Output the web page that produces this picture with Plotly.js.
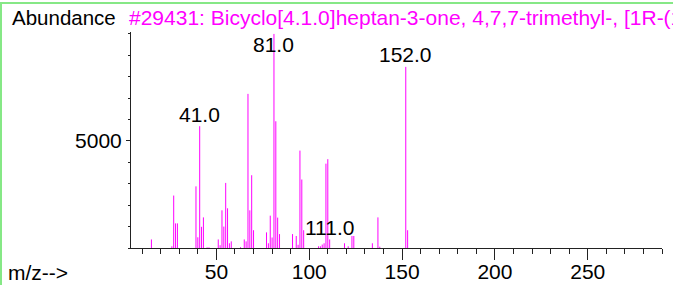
<!DOCTYPE html>
<html>
<head>
<meta charset="utf-8">
<script src="https://cdn.plot.ly/plotly-3.0.1.min.js"></script>
<style>
html,body{margin:0;padding:0;background:#fff;}
#chart{width:673px;height:285px;}
</style>
</head>
<body>
<div id="chart"></div>
<script>
// m/z values and abundances
const mz = [15, 26, 27, 28, 29, 39, 40, 41, 42, 43, 45, 46, 51, 52, 53, 54, 55, 56, 57, 58,
            63, 65, 66, 67, 68, 69, 70, 77, 78, 79, 80, 81, 82, 83, 84, 91, 93, 94, 95, 96, 97,
            105, 106, 107, 108, 109, 110, 111, 119, 121, 123, 124, 134, 137, 138, 152, 153];
const abundance = [400, 80, 2450, 1150, 1150, 2880, 500, 5690, 990, 1430, 30, 30, 400, 130, 1760, 1000, 3040, 1855, 220, 310,
            40, 400, 310, 7200, 1760, 3400, 830, 730, 220, 1510, 490, 10000, 5920, 1420, 650, 650, 560, 150, 4550, 3200, 830,
            80, 80, 160, 220, 3940, 4150, 400, 220, 80, 560, 560, 220, 1430, 60, 8460, 830];
const labelledPeaks = [41, 81, 111, 152];
const xTickVals = [50, 100, 150, 200, 250];
const yTickVals = [5000];
const titleText = "#29431: Bicyclo[4.1.0]heptan-3-one, 4,7,7-trimethyl-, [1R-(1\u03b1,4\u03b2,6\u03b1)]-";
const yAxisLabel = "Abundance";
const xAxisLabel = "m/z-->";

// build stick segments
const xs = [], ys = [];
mz.forEach((m, i) => { xs.push(m, m, null); ys.push(0, abundance[i], null); });

const W = 673, H = 285;
const M = {l: 131, r: 11, t: 32, b: 37};
const pw = W - M.l - M.r, ph = H - M.t - M.b;
const px = v => (v - M.l) / pw;          // pixel x -> paper
const py = v => (H - M.b - v) / ph;      // pixel y -> paper

const FONT = "Liberation Sans, Arial, sans-serif";
const FS = 21;
const annotations = labelledPeaks.map(m => {
  const a = abundance[mz.indexOf(m)];
  return {
    x: m, y: Math.min(a, 8960), xref: 'x', yref: 'y',
    text: m.toFixed(1), showarrow: false, xanchor: 'center', yanchor: 'middle',
    yshift: 12, font: {family: FONT, size: FS, color: '#000'}
  };
});
annotations.push({
  x: px(10), y: py(17), xref: 'paper', yref: 'paper', text: yAxisLabel, showarrow: false,
  xanchor: 'left', yanchor: 'middle', font: {family: FONT, size: FS - 0.5, color: '#000'}
});
annotations.push({
  x: px(6), y: py(272), xref: 'paper', yref: 'paper', text: xAxisLabel, showarrow: false,
  xanchor: 'left', yanchor: 'middle', font: {family: FONT, size: FS, color: '#000'}
});
annotations.push({
  x: px(127), y: py(18), xref: 'paper', yref: 'paper', text: titleText, showarrow: false,
  xanchor: 'left', yanchor: 'middle', font: {family: FONT, size: FS, color: '#ff00ff'}
});

const shapes = [
  {type: 'line', xref: 'paper', yref: 'paper', x0: px(0), x1: px(673), y0: py(3), y1: py(3),
   line: {color: '#86e886', width: 2}},
  {type: 'line', xref: 'paper', yref: 'paper', x0: px(1), x1: px(1), y0: py(3), y1: py(285),
   line: {color: '#86e886', width: 2}}
];

const trace = {
  x: xs, y: ys, type: 'scatter', mode: 'lines', connectgaps: false,
  line: {color: '#ff00ff', width: 1}, hoverinfo: 'skip', cliponaxis: false
};

const layout = {
  width: W, height: H, margin: M, showlegend: false,
  paper_bgcolor: '#fff', plot_bgcolor: '#fff',
  font: {family: FONT, size: FS, color: '#000'},
  xaxis: {
    range: [4, 290], showgrid: false, zeroline: false, showline: true,
    linecolor: '#222', linewidth: 1, ticks: 'outside', ticklen: 11, tickwidth: 1, tickcolor: '#222',
    tickvals: xTickVals, ticktext: xTickVals.map(String), ticklabelstandoff: -6,
    tickfont: {family: FONT, size: FS, color: '#000'},
    minor: {tick0: 0, dtick: 10, ticks: 'outside', ticklen: 5, tickwidth: 1, tickcolor: '#222', showgrid: false}
  },
  yaxis: {
    range: [0, 10090], showgrid: false, zeroline: false, showline: true,
    linecolor: '#222', linewidth: 1, ticks: 'outside', ticklen: 4, tickwidth: 1, tickcolor: '#222',
    tickvals: yTickVals, ticktext: yTickVals.map(String),
    tickfont: {family: FONT, size: FS, color: '#000'},
    minor: {tick0: 0, dtick: 1000, ticks: 'outside', ticklen: 2, tickwidth: 1, tickcolor: '#222', showgrid: false}
  },
  annotations: annotations,
  shapes: shapes
};

Plotly.newPlot('chart', [trace], layout, {staticPlot: true, displayModeBar: false});
</script>
</body>
</html>
